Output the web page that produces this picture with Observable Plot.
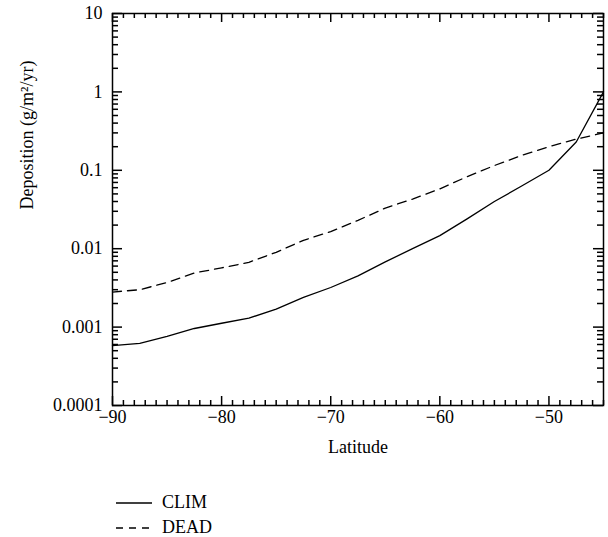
<!DOCTYPE html>
<html>
<head>
<meta charset="utf-8">
<script src="https://cdn.jsdelivr.net/npm/d3@7"></script>
<script src="https://cdn.jsdelivr.net/npm/@observablehq/plot@0.6"></script>
<style>
  body { margin: 0; background: white; }
  #legend { font-family: "Liberation Serif", serif; font-size: 18px; margin-left: 116px; margin-top: 20px; line-height: 25px; }
  #legend div { display: flex; align-items: center; height: 25px; }
  #legend svg { margin-right: 10px; }
</style>
</head>
<body>
<div id="chart"></div>
<div id="legend"></div>
<script>
const latitude = [-90, -87.5, -85, -82.5, -80, -77.5, -75, -72.5, -70, -67.5, -65, -62.5, -60, -57.5, -55, -52.5, -50, -47.5, -45];
const clim = [0.00058, 0.00062, 0.00076, 0.00096, 0.00112, 0.0013, 0.0017, 0.0024, 0.0032, 0.0045, 0.0068, 0.0100, 0.0147, 0.024, 0.040, 0.063, 0.100, 0.23, 1.0];
const dead = [0.0028, 0.0030, 0.0037, 0.0049, 0.0057, 0.0067, 0.0090, 0.0128, 0.0165, 0.023, 0.033, 0.043, 0.058, 0.083, 0.115, 0.155, 0.20, 0.25, 0.30];
const seriesNames = ["CLIM", "DEAD"];
const xMajor = [-90, -80, -70, -60, -50];
const yMajor = [0.0001, 0.001, 0.01, 0.1, 1, 10];
const yMajorLabels = ["0.0001", "0.001", "0.01", "0.1", "1", "10"];

const rows = latitude.flatMap((x, i) => [
  {lat: x, v: clim[i], s: seriesNames[0]},
  {lat: x, v: dead[i], s: seriesNames[1]}
]);

const xMinor = d3.range(-89, -44, 1).filter(d => !xMajor.includes(d));
const yMinor = [];
for (let e = -4; e < 1; e++) for (let m = 2; m <= 9; m++) yMinor.push(m * Math.pow(10, e));

const W = 608, H = 470, mT = 13, mL = 112, mR = 5, mB = 65;
const fw = W - mL - mR, fh = H - mT - mB;
const font = "Liberation Serif, serif";
const tk = {stroke: "black", strokeWidth: 1.5};

const chart = Plot.plot({
  width: W,
  height: H,
  marginTop: mT,
  marginLeft: mL,
  marginRight: mR,
  marginBottom: mB,
  style: {fontFamily: font, fontSize: "18px", background: "white", color: "black"},
  x: {domain: [-90, -45]},
  y: {type: "log", domain: [0.0001, 10]},
  marks: [
    // inward ticks on all four sides
    Plot.ruleX(xMinor, {...tk, insetTop: fh - 5}),
    Plot.ruleX(xMajor, {...tk, insetTop: fh - 9}),
    Plot.ruleX(xMinor, {...tk, insetBottom: fh - 5}),
    Plot.ruleX(xMajor, {...tk, insetBottom: fh - 9}),
    Plot.ruleY(yMinor, {...tk, insetRight: fw - 6}),
    Plot.ruleY(yMajor, {...tk, insetRight: fw - 10}),
    Plot.ruleY(yMinor, {...tk, insetLeft: fw - 6}),
    Plot.ruleY(yMajor, {...tk, insetLeft: fw - 10}),
    Plot.axisX({anchor: "bottom", ticks: xMajor, tickSize: 0, tickPadding: 5, tickFormat: d => "\u2212" + Math.abs(d), label: null, fontSize: 18}),
    Plot.axisY({anchor: "left", ticks: yMajor, tickSize: 0, tickPadding: 10, tickFormat: d => yMajorLabels[yMajor.indexOf(d)], label: null, fontSize: 18}),
    Plot.line(rows.filter(d => d.s === "CLIM"), {x: "lat", y: "v", stroke: "black", strokeWidth: 1.3}),
    Plot.line(rows.filter(d => d.s === "DEAD"), {x: "lat", y: "v", stroke: "black", strokeWidth: 1.3, strokeDasharray: "9,6"}),
    Plot.frame({stroke: "black", strokeWidth: 1.5}),
    Plot.text(["Latitude"], {frameAnchor: "bottom", dy: 47, fontSize: 18, fontFamily: font}),
    Plot.text(["Deposition (g/m\u00B2/yr)"], {frameAnchor: "left", dx: -85, rotate: -90, fontSize: 18, fontFamily: font})
  ]
});
document.getElementById("chart").appendChild(chart);

const legend = document.getElementById("legend");
seriesNames.forEach((name, i) => {
  const row = document.createElement("div");
  row.innerHTML = `<svg width="36" height="10"><line x1="0" x2="36" y1="5" y2="5" stroke="black" stroke-width="1.3" ${i === 1 ? 'stroke-dasharray="7,6"' : ''}></line></svg><span>${name}</span>`;
  legend.appendChild(row);
});
</script>
</body>
</html>
